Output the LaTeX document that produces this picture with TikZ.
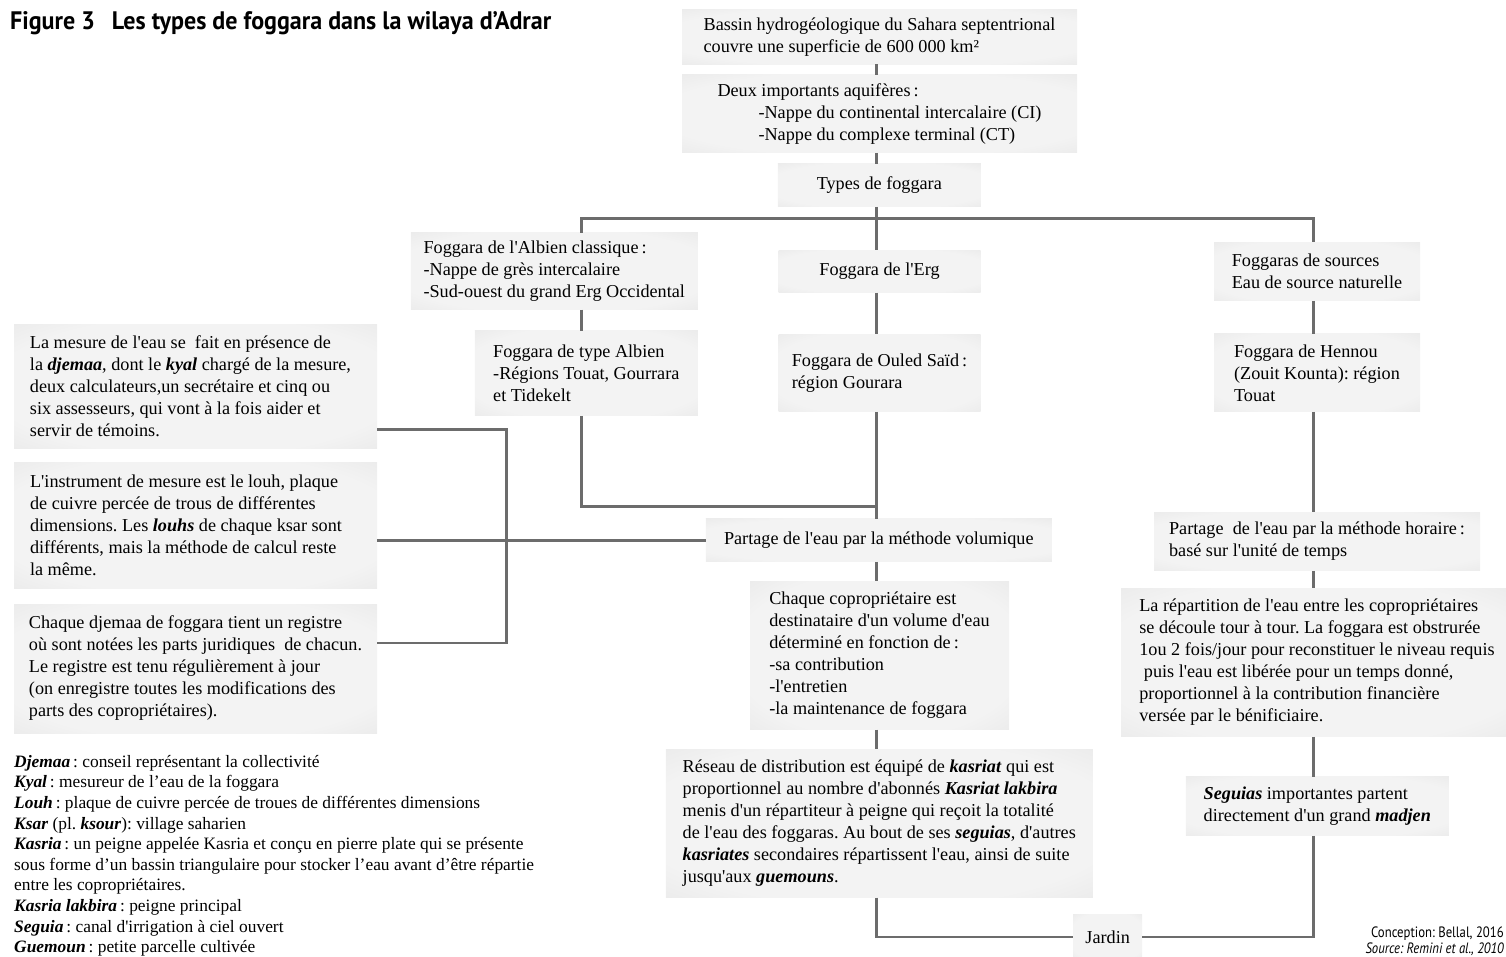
\documentclass[tikz,border=0pt]{standalone}
\usepackage{graphicx}
\usepackage{fontspec}
\setmainfont{Liberation Serif}[Ligatures=TeXOff]
\newfontfamily\titlefont{PT Sans}
\newfontfamily\credfont[FakeStretch=0.85]{PT Sans}
\usepackage{xcolor}
\definecolor{linegray}{RGB}{108,108,108}
\definecolor{boxin}{RGB}{243,243,243}
\definecolor{boxout}{RGB}{222,222,222}
\definecolor{boxedge}{RGB}{205,205,205}
\pgfdeclareradialshading{boxglow}{\pgfpoint{0bp}{0bp}}{color(0bp)=(boxin); color(28bp)=(boxin); color(50bp)=(boxout); color(71bp)=(boxedge)}
\newcommand{\kw}[1]{\textbf{\textit{#1}}}
\frenchspacing

\begin{document}
\begin{tikzpicture}[x=1pt,y=-1pt,
    panel/.style={shading=boxglow,inner sep=0pt,align=left,font=\fontsize{18.2}{22}\selectfont},
    link/.style={draw=linegray,line width=2.6pt}]
    \useasboundingbox (0,0) rectangle (1506,956);
    \node[anchor=base west,inner sep=0pt] (title) at (10,29.5)
    {\resizebox{541pt}{18pt}{\titlefont\bfseries Figure 3\hspace{0.7em}Les types de foggara dans la wilaya d’Adrar}};

    \node[panel,minimum width=395,minimum height=55] (bassin) at (879.5,36.7)
    {Bassin hydrogéologique du Sahara septentrional\\couvre une superficie de 600 000 km²};
    \node[panel,minimum width=395,minimum height=77.7] (deux) at (879.5,113.8)
    {Deux importants aquifères\,:\\\hspace*{41pt}-Nappe du continental intercalaire (CI)\\\hspace*{41pt}-Nappe du complexe terminal (CT)};
    \node[panel,minimum width=203,minimum height=42.7] (types) at (879.3,185.3) {Types de foggara};

    \node[panel,minimum width=287,minimum height=76.6] (albclass) at (554.3,271)
    {Foggara de l'Albien classique\,:\\-Nappe de grès intercalaire\\-Sud-ouest du grand Erg Occidental};
    \node[panel,minimum width=202,minimum height=42.3] (erg) at (879.5,271.2) {Foggara de l'Erg};
    \node[panel,minimum width=206,minimum height=58.4] (sources) at (1317,271.5)
    {Foggaras de sources\\Eau de source naturelle};
    \node[panel,minimum width=223,minimum height=84.7] (typalb) at (586.3,373.3)
    {Foggara de type Albien\\-Régions Touat, Gourrara\\et Tidekelt};
    \node[panel,minimum width=202,minimum height=77.4] (ouled) at (879.5,373)
    {Foggara de Ouled Saïd\,:\\région Gourara};
    \node[panel,minimum width=206,minimum height=77.7] (hennou) at (1317,372.8)
    {Foggara de Hennou\\(Zouit Kounta): région\\Touat};

    \node[panel,minimum width=363,minimum height=124] (mesure) at (195.5,386)
    {La mesure de l'eau se\ \ fait en présence de\\la \kw{djemaa}, dont le \kw{kyal} chargé de la mesure,\rule{10pt}{0pt}\\deux calculateurs,un secrétaire et cinq ou\\six assesseurs, qui vont à la fois aider et\\servir de témoins.};
    \node[panel,minimum width=363,minimum height=126] (louh) at (195.5,525)
    {L'instrument de mesure est le louh, plaque\\de cuivre percée de trous de différentes\\dimensions. Les \kw{louhs} de chaque ksar sont\rule{19pt}{0pt}\\différents, mais la méthode de calcul reste\\la même.};
    \node[panel,minimum width=363,minimum height=129] (registre) at (195.5,668.5)
    {Chaque djemaa de foggara tient un registre\\où sont notées les parts juridiques\ \ de chacun.\\Le registre est tenu régulièrement à jour\\(on enregistre toutes les modifications des\\parts des copropriétaires).};

    \node[panel,minimum width=346,minimum height=42.7] (volum) at (878.8,540.3)
    {Partage de l'eau par la méthode volumique};
    \node[panel,minimum width=326,minimum height=58.4] (horaire) at (1317,541.5)
    {Partage\ \ de l'eau par la méthode horaire\,:\\basé sur l'unité de temps};
    \node[panel,minimum width=259,minimum height=148.3] (chaque) at (879.5,655.2)
    {Chaque copropriétaire est\\destinataire d'un volume d'eau\\déterminé en fonction de\,:\\-sa contribution\\-l'entretien\\-la maintenance de foggara};
    \node[panel,minimum width=392,minimum height=148.4] (repart) at (1317,662.5)
    {La répartition de l'eau entre les copropriétaires\\se découle tour à tour. La foggara est obstrurée\\1ou 2 fois/jour pour reconstituer le niveau requis\\\ puis l'eau est libérée pour un temps donné,\\proportionnel à la contribution financière\\versée par le bénificiaire.};
    \node[panel,minimum width=427,minimum height=148] (reseau) at (879.3,823.3)
    {Réseau de distribution est équipé de \kw{kasriat} qui est\\proportionnel au nombre d'abonnés \kw{Kasriat lakbira}\\menis d'un répartiteur à peigne qui reçoit la totalité\\de l'eau des foggaras. Au bout de ses \kw{seguias}, d'autres\\\kw{kasriates} secondaires répartissent l'eau, ainsi de suite\\jusqu'aux \kw{guemouns}.};
    \node[panel,minimum width=263,minimum height=59] (seguias) at (1317.3,806.2)
    {\kw{Seguias} importantes partent\\directement d'un grand \kw{madjen}};
    \node[panel,minimum width=69,minimum height=46] (jardin) at (1107.7,937) {Jardin};

    \node[anchor=north west,inner sep=0pt,align=left,font=\fontsize{17.4}{20.6}\selectfont] (gloss) at (14,755)
    {\kw{Djemaa}\,: conseil représentant la collectivité\\
    \kw{Kyal}\,: mesureur de l’eau de la foggara\\
    \kw{Louh}\,: plaque de cuivre percée de troues de différentes dimensions\\
    \kw{Ksar} (pl. \kw{ksour}): village saharien\\
    \kw{Kasria}\,: un peigne appelée Kasria et conçu en pierre plate qui se présente\\
    sous forme d’un bassin triangulaire pour stocker l’eau avant d’être répartie\\
    entre les copropriétaires.\\
    \kw{Kasria lakbira}\,: peigne principal\\
    \kw{Seguia}\,: canal d'irrigation à ciel ouvert\\
    \kw{Guemoun}\,: petite parcelle cultivée};
    \node[anchor=base east,inner sep=0pt,font=\credfont\fontsize{15}{17}\selectfont] (concept) at (1504,937) {Conception: Bellal, 2016};
    \node[anchor=base east,inner sep=0pt,font=\credfont\itshape\fontsize{15}{17}\selectfont] (source) at (1504,953) {Source: Remini et al., 2010};

    \coordinate (spine) at (876.7,0);
    \coordinate (albcol) at (581.7,0);
    \coordinate (rightcol) at (1313.5,0);
    \coordinate (lbar) at (506.7,0);
    \coordinate (bus) at (876.7,218.3);
    \coordinate (join) at (876.7,506.7);
    \coordinate (tap1) at ([yshift=18.7pt]mesure.south east);
    \coordinate (tap3) at ([yshift=25.5pt]registre.east);

    \draw[link] (bassin.south -| spine) -- (deux.north -| spine);
    \draw[link] (deux.south -| spine) -- (types.north -| spine);
    \draw[link] (types.south -| spine) -- (erg.north -| spine);
    \draw[link] (erg.south -| spine) -- (ouled.north -| spine);
    \draw[link] (ouled.south -| spine) -- (volum.north -| spine);
    \draw[link] (albclass.north -| albcol) |- (bus) -| (sources.north -| rightcol);
    \draw[link] (albclass.south -| albcol) -- (typalb.north -| albcol);
    \draw[link] (typalb.south -| albcol) |- (join);
    \draw[link] (tap1) -| (tap3 -| lbar) -- (tap3);
    \draw[link] (louh.east |- volum.west) -- (volum.west);
    \draw[link] (volum.south -| spine) -- (chaque.north -| spine);
    \draw[link] (chaque.south -| spine) -- (reseau.north -| spine);
    \draw[link] (reseau.south -| spine) |- (jardin.west);
    \draw[link] (sources.south -| rightcol) -- (hennou.north -| rightcol);
    \draw[link] (hennou.south -| rightcol) -- (horaire.north -| rightcol);
    \draw[link] (horaire.south -| rightcol) -- (repart.north -| rightcol);
    \draw[link] (repart.south -| rightcol) -- (seguias.north -| rightcol);
    \draw[link] (seguias.south -| rightcol) |- (jardin.east);
\end{tikzpicture}
\end{document}
